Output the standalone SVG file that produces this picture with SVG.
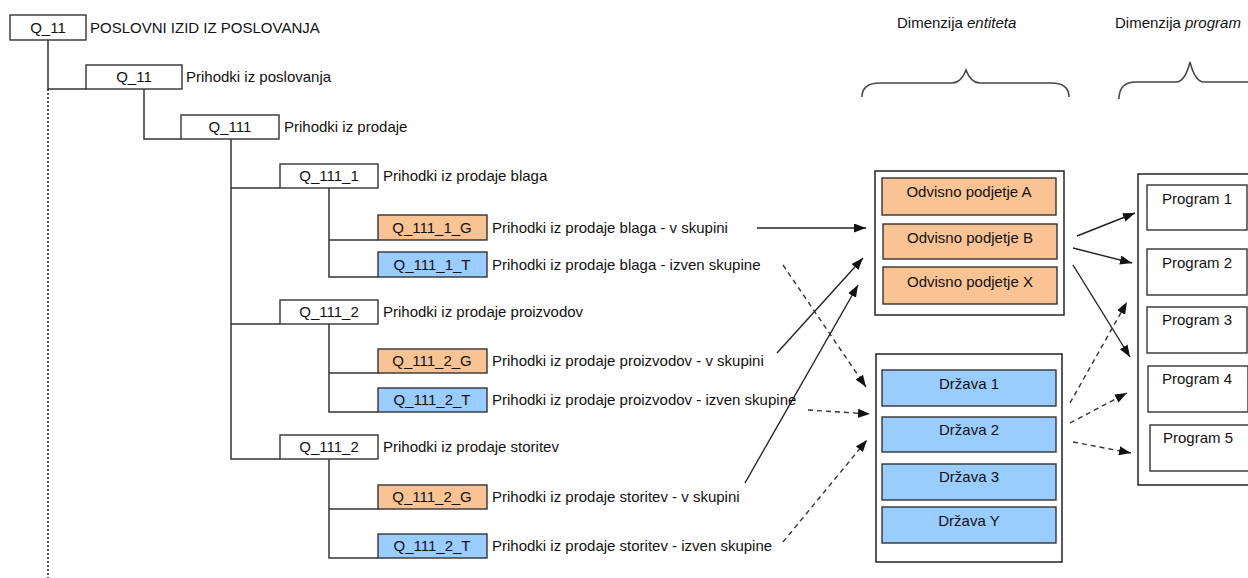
<svg xmlns="http://www.w3.org/2000/svg" width="1248" height="578" viewBox="0 0 1248 578">
<defs>
<marker id="ah" markerWidth="13" markerHeight="10" refX="12" refY="4.5" orient="auto" markerUnits="userSpaceOnUse">
<path d="M0,0 L12,4.5 L0,9 z" fill="#111"/>
</marker>
<style>
text{font-family:"Liberation Sans",Arial,sans-serif;font-size:15px;fill:#111}
.c{text-anchor:middle}
.bx{fill:#fff;stroke:#333;stroke-width:1.4}
.or{fill:#FAC393;stroke:#333;stroke-width:1.4}
.bl{fill:#99CCFF;stroke:#333;stroke-width:1.4}
.outer{fill:#fff;stroke:#222;stroke-width:1.5}
.tree{fill:none;stroke:#333;stroke-width:1.5}
.dot{fill:none;stroke:#222;stroke-width:1.5;stroke-dasharray:2,2}
.sol{fill:none;stroke:#222;stroke-width:1.4;marker-end:url(#ah)}
.dsh{fill:none;stroke:#333;stroke-width:1.4;stroke-dasharray:5,4;marker-end:url(#ah)}
.brace{fill:none;stroke:#444;stroke-width:1.5}
</style>
</defs>
<rect width="1248" height="578" fill="#fff"/>

<g id="tree-lines">
<path class="tree" d="M48,40 V89 H86"/>
<path class="dot" d="M48,89 V578"/>
<path class="tree" d="M144,89 V139 H181"/>
<path class="tree" d="M231,139 V459 H280 M231,188 H280 M231,324 H280"/>
<path class="tree" d="M329,188 V277 H378 M329,240 H378"/>
<path class="tree" d="M329,324 V412 H378 M329,373 H378"/>
<path class="tree" d="M329,459 V558 H378 M329,509 H378"/>
</g>

<g id="n-q11-root"><rect class="bx" x="10" y="15" width="76" height="25"/><text class="c" x="48" y="33">Q_11</text><text x="90" y="33">POSLOVNI IZID IZ POSLOVANJA</text></g>
<g id="n-q11"><rect class="bx" x="86" y="65" width="96" height="24"/><text class="c" x="134" y="82">Q_11</text><text x="186" y="82">Prihodki iz poslovanja</text></g>
<g id="n-q111"><rect class="bx" x="181" y="115" width="98" height="24"/><text class="c" x="230" y="132">Q_111</text><text x="284" y="132">Prihodki iz prodaje</text></g>
<g id="n-q111-1"><rect class="bx" x="280" y="164" width="98" height="24"/><text class="c" x="329" y="181">Q_111_1</text><text x="383" y="181">Prihodki iz prodaje blaga</text></g>
<g id="n-q111-1-g"><rect class="or" x="378" y="215" width="109" height="25"/><text class="c" x="432" y="233">Q_111_1_G</text><text x="492" y="233">Prihodki iz prodaje blaga - v skupini</text></g>
<g id="n-q111-1-t"><rect class="bl" x="378" y="252" width="109" height="25"/><text class="c" x="432" y="270">Q_111_1_T</text><text x="492" y="270">Prihodki iz prodaje blaga - izven skupine</text></g>
<g id="n-q111-2"><rect class="bx" x="280" y="300" width="98" height="24"/><text class="c" x="329" y="317">Q_111_2</text><text x="383" y="317">Prihodki iz prodaje proizvodov</text></g>
<g id="n-q111-2-g"><rect class="or" x="378" y="349" width="109" height="24"/><text class="c" x="432" y="366">Q_111_2_G</text><text x="492" y="366">Prihodki iz prodaje proizvodov - v skupini</text></g>
<g id="n-q111-2-t"><rect class="bl" x="378" y="388" width="109" height="24"/><text class="c" x="432" y="405">Q_111_2_T</text><text x="492" y="405">Prihodki iz prodaje proizvodov - izven skupine</text></g>
<g id="n-q111-2s"><rect class="bx" x="280" y="435" width="98" height="24"/><text class="c" x="329" y="452">Q_111_2</text><text x="383" y="452">Prihodki iz prodaje storitev</text></g>
<g id="n-q111-2s-g"><rect class="or" x="378" y="485" width="109" height="24"/><text class="c" x="432" y="502">Q_111_2_G</text><text x="492" y="502">Prihodki iz prodaje storitev - v skupini</text></g>
<g id="n-q111-2s-t"><rect class="bl" x="378" y="534" width="109" height="24"/><text class="c" x="432" y="551">Q_111_2_T</text><text x="492" y="551">Prihodki iz prodaje storitev - izven skupine</text></g>

<g id="headers">
<text x="897" y="28">Dimenzija <tspan font-style="italic">entiteta</tspan></text>
<text x="1115" y="28">Dimenzija <tspan font-style="italic">program</tspan></text>
<path class="brace" d="M862,97 C862,88 868,83 880,83 L952,83 C959,83 963,78 966,70 C969,78 973,83 980,83 L1051,83 C1063,83 1069,88 1069,97"/>
<path class="brace" d="M1119,99 C1119,89 1124,82 1136,82 L1176,82 C1183,82 1187,74 1190,62 C1193,74 1197,82 1204,82 L1260,82"/>
</g>

<g id="n-entiteta">
<rect class="outer" x="875" y="171" width="189" height="144"/>
<g id="n-odv-a"><rect class="or" x="882" y="178" width="174" height="37"/><text class="c" x="969" y="197">Odvisno podjetje A</text></g>
<g id="n-odv-b"><rect class="or" x="883" y="224" width="174" height="35"/><text class="c" x="970" y="243">Odvisno podjetje B</text></g>
<g id="n-odv-x"><rect class="or" x="883" y="267" width="174" height="37"/><text class="c" x="970" y="287">Odvisno podjetje X</text></g>
</g>

<g id="n-drzave">
<rect class="outer" x="876" y="354" width="186" height="208"/>
<g id="n-drz-1"><rect class="bl" x="882" y="370" width="174" height="36"/><text class="c" x="969" y="389">Država 1</text></g>
<g id="n-drz-2"><rect class="bl" x="882" y="417" width="174" height="35"/><text class="c" x="969" y="435">Država 2</text></g>
<g id="n-drz-3"><rect class="bl" x="882" y="464" width="174" height="36"/><text class="c" x="969" y="482">Država 3</text></g>
<g id="n-drz-y"><rect class="bl" x="882" y="507" width="174" height="36"/><text class="c" x="969" y="526">Država Y</text></g>
</g>

<g id="n-programi">
<rect class="outer" x="1138" y="174" width="130" height="311"/>
<g id="n-prog-1"><rect class="bx" x="1147" y="185" width="100" height="45"/><text class="c" x="1197" y="204">Program 1</text></g>
<g id="n-prog-2"><rect class="bx" x="1147" y="249" width="100" height="46"/><text class="c" x="1197" y="268">Program 2</text></g>
<g id="n-prog-3"><rect class="bx" x="1147" y="307" width="100" height="46"/><text class="c" x="1197" y="325">Program 3</text></g>
<g id="n-prog-4"><rect class="bx" x="1148" y="366" width="100" height="46"/><text class="c" x="1197" y="384">Program 4</text></g>
<g id="n-prog-5"><rect class="bx" x="1150" y="425" width="100" height="46"/><text class="c" x="1198" y="443">Program 5</text></g>
</g>

<g id="connectors">
<line class="sol" x1="757" y1="228" x2="866" y2="228"/>
<line class="sol" x1="777" y1="353" x2="863" y2="258"/>
<line class="sol" x1="745" y1="483" x2="858" y2="285"/>
<line class="dsh" x1="783" y1="265" x2="866" y2="387"/>
<line class="dsh" x1="808" y1="410" x2="870" y2="414"/>
<line class="dsh" x1="783" y1="542" x2="867" y2="440"/>
<line class="sol" x1="1077" y1="236" x2="1135" y2="213"/>
<line class="sol" x1="1073" y1="248" x2="1132" y2="263"/>
<line class="sol" x1="1073" y1="265" x2="1130" y2="357"/>
<line class="dsh" x1="1070" y1="403" x2="1127" y2="302"/>
<line class="dsh" x1="1070" y1="423" x2="1127" y2="393"/>
<line class="dsh" x1="1073" y1="442" x2="1131" y2="453"/>
</g>
</svg>
